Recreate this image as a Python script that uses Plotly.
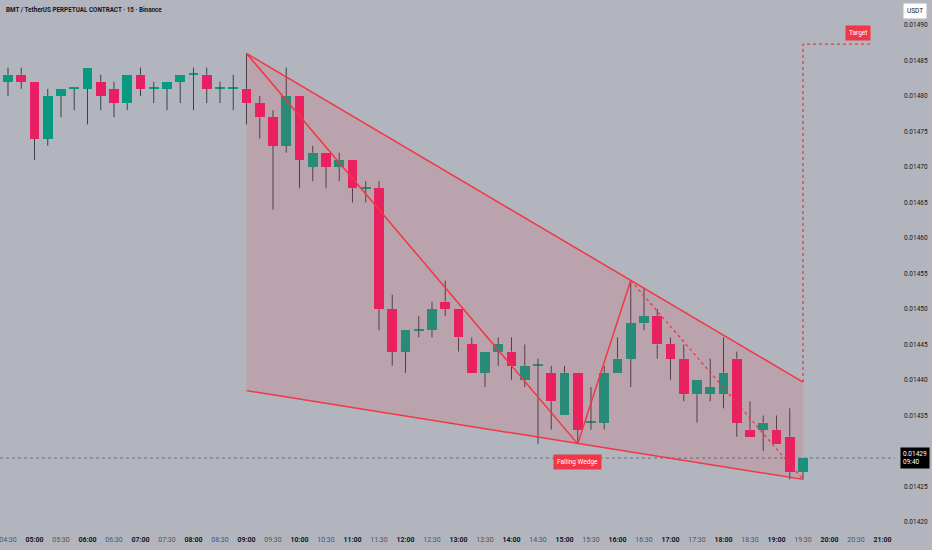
import plotly.graph_objects as go

DAY = "2025-05-01"

# ---- candle data (15-minute bars) ----
times = ["04:30", "04:45", "05:00", "05:15", "05:30", "05:45", "06:00", "06:15", "06:30", "06:45",
         "07:00", "07:15", "07:30", "07:45", "08:00", "08:15", "08:30", "08:45", "09:00", "09:15",
         "09:30", "09:45", "10:00", "10:15", "10:30", "10:45", "11:00", "11:15", "11:30", "11:45",
         "12:00", "12:15", "12:30", "12:45", "13:00", "13:15", "13:30", "13:45", "14:00", "14:15",
         "14:30", "14:45", "15:00", "15:15", "15:30", "15:45", "16:00", "16:15", "16:30", "16:45",
         "17:00", "17:15", "17:30", "17:45", "18:00", "18:15", "18:30", "18:45", "19:00", "19:15",
         "19:30"]
opens = [0.01482, 0.01483, 0.01482, 0.01474, 0.01480, 0.01481, 0.01481, 0.01482, 0.01481, 0.01479,
         0.01483, 0.01481, 0.01481, 0.01482, 0.01483, 0.01483, 0.01481, 0.01481, 0.01481, 0.01479,
         0.01477, 0.01473, 0.01480, 0.01470, 0.01472, 0.01470, 0.01471, 0.01467, 0.01467, 0.01450,
         0.01444, 0.01447, 0.01447, 0.01451, 0.01450, 0.01445, 0.01441, 0.01444, 0.01444, 0.01440,
         0.01442, 0.01441, 0.01435, 0.01441, 0.01434, 0.01434, 0.01441, 0.01443, 0.01448, 0.01449,
         0.01445, 0.01443, 0.01438, 0.01438, 0.01438, 0.01443, 0.01433, 0.01433, 0.01433, 0.01432,
         0.01427]
highs = [0.01484, 0.01484, 0.01482, 0.01481, 0.01481, 0.01481, 0.01484, 0.01483, 0.01482, 0.01483,
         0.01484, 0.01482, 0.01482, 0.01483, 0.01484, 0.01484, 0.01482, 0.01483, 0.01486, 0.01480,
         0.01478, 0.01484, 0.01480, 0.01473, 0.01472, 0.01472, 0.01471, 0.01468, 0.01468, 0.01452,
         0.01446, 0.01449, 0.01451, 0.01454, 0.01450, 0.01446, 0.01444, 0.01446, 0.01446, 0.01445,
         0.01443, 0.01442, 0.01442, 0.01441, 0.01439, 0.01442, 0.01446, 0.01454, 0.01453, 0.01450,
         0.01446, 0.01445, 0.01440, 0.01443, 0.01446, 0.01444, 0.01437, 0.01435, 0.01435, 0.01436,
         0.01429]
lows = [0.01480, 0.01481, 0.01471, 0.01473, 0.01477, 0.01478, 0.01476, 0.01478, 0.01477, 0.01478,
        0.01480, 0.01479, 0.01478, 0.01479, 0.01478, 0.01479, 0.01479, 0.01478, 0.01476, 0.01474,
        0.01464, 0.01472, 0.01467, 0.01468, 0.01467, 0.01468, 0.01465, 0.01465, 0.01447, 0.01442,
        0.01441, 0.01446, 0.01446, 0.01449, 0.01444, 0.01441, 0.01439, 0.01442, 0.01440, 0.01439,
        0.01431, 0.01433, 0.01435, 0.01431, 0.01433, 0.01433, 0.01441, 0.01439, 0.01447, 0.01443,
        0.01440, 0.01437, 0.01434, 0.01437, 0.01436, 0.01432, 0.01432, 0.01430, 0.01431, 0.01426,
        0.01426]
closes = [0.01483, 0.01482, 0.01474, 0.01480, 0.01481, 0.01481, 0.01484, 0.01480, 0.01479, 0.01483,
          0.01481, 0.01481, 0.01482, 0.01483, 0.01483, 0.01481, 0.01481, 0.01481, 0.01479, 0.01477,
          0.01473, 0.01480, 0.01471, 0.01472, 0.01470, 0.01471, 0.01467, 0.01467, 0.01450, 0.01444,
          0.01447, 0.01447, 0.01450, 0.01450, 0.01446, 0.01441, 0.01444, 0.01445, 0.01442, 0.01442,
          0.01442, 0.01437, 0.01441, 0.01433, 0.01434, 0.01441, 0.01443, 0.01448, 0.01449, 0.01445,
          0.01443, 0.01438, 0.01440, 0.01439, 0.01441, 0.01434, 0.01432, 0.01434, 0.01431, 0.01427,
          0.01429]

# ---- drawings ----
wedge_upper_t = ["09:00", "19:30"]
wedge_upper_p = [0.01486, 0.014397]
wedge_lower_t = ["09:00", "19:30"]
wedge_lower_p = [0.014385, 0.01426]
zigzag_t = ["09:00", "15:15", "16:15"]
zigzag_p = [0.01486, 0.01431, 0.01454]
projection_t = ["16:15", "19:30"]
projection_p = [0.01454, 0.01426]
target_t = ["19:30", "19:30", "20:49"]
target_p = [0.014397, 0.014873, 0.014873]
target_text = "Target"
pattern_text = "Falling Wedge"
pattern_point_t = "15:15"
pattern_point_p = 0.01431

x_ticks = ["04:30", "05:00", "05:30", "06:00", "06:30", "07:00", "07:30", "08:00", "08:30", "09:00",
           "09:30", "10:00", "10:30", "11:00", "11:30", "12:00", "12:30", "13:00", "13:30", "14:00",
           "14:30", "15:00", "15:30", "16:00", "16:30", "17:00", "17:30", "18:00", "18:30", "19:00",
           "19:30", "20:00", "20:30", "21:00"]
y_ticks = [0.01420, 0.01425, 0.01430, 0.01435, 0.01440, 0.01445, 0.01450, 0.01455, 0.01460,
           0.01465, 0.01470, 0.01475, 0.01480, 0.01485, 0.01490]

title_text = "BMT / TetherUS PERPETUAL CONTRACT · 15 · Binance"
currency_text = "USDT"
countdown_text = "09:40"

# ---- style ----
BG = "#B2B5BE"
UP = "#089981"
DOWN = "#E91E63"
WICK = "#3E414B"
LINE = "#F23645"
FONT = "Roboto"
TITLE_FONT = "Liberation Sans Narrow, Roboto"
DOJI_H = 1.4e-6


def ts(t):
    return f"{DAY} {t}"


X = [ts(t) for t in times]

fig = go.Figure()

# candle bodies
base = [min(o, c) for o, c in zip(opens, closes)]
height = [max(abs(c - o), DOJI_H) for o, c in zip(opens, closes)]
colors = [UP if c >= o else DOWN for o, c in zip(opens, closes)]
fig.add_trace(go.Bar(x=X, y=height, base=base, width=0.72 * 15 * 60 * 1000,
                     marker=dict(color=colors, line=dict(width=0)), hoverinfo="skip"))

# wicks (above and below the body)
wx, wy = [], []
for x, o, h, l, c in zip(X, opens, highs, lows, closes):
    top, bot = max(o, c), min(o, c)
    if h > top:
        wx += [x, x, None]
        wy += [top, h, None]
    if l < bot:
        wx += [x, x, None]
        wy += [bot, l, None]
fig.add_trace(go.Scatter(x=wx, y=wy, mode="lines", line=dict(color=WICK, width=1),
                         hoverinfo="skip"))

# wedge fill
poly_t = [wedge_upper_t[0], wedge_upper_t[1], wedge_lower_t[1], wedge_lower_t[0], wedge_upper_t[0]]
poly_p = [wedge_upper_p[0], wedge_upper_p[1], wedge_lower_p[1], wedge_lower_p[0], wedge_upper_p[0]]
fig.add_trace(go.Scatter(x=[ts(t) for t in poly_t], y=poly_p, mode="lines", fill="toself",
                         fillcolor="rgba(242,54,69,0.14)", line=dict(width=0), hoverinfo="skip"))
# wedge lines
for tt, pp in [(wedge_upper_t, wedge_upper_p), (wedge_lower_t, wedge_lower_p), (zigzag_t, zigzag_p)]:
    fig.add_trace(go.Scatter(x=[ts(t) for t in tt], y=pp, mode="lines",
                             line=dict(color=LINE, width=1.5), hoverinfo="skip"))
fig.add_trace(go.Scatter(x=[ts(t) for t in projection_t], y=projection_p, mode="lines",
                         line=dict(color=LINE, width=1.3, dash="dot"), hoverinfo="skip"))
fig.add_trace(go.Scatter(x=[ts(t) for t in target_t], y=target_p, mode="lines",
                         line=dict(color=LINE, width=1.3, dash="dot"), hoverinfo="skip"))

# last price line
last_close = closes[-1]
fig.add_shape(type="line", xref="paper", x0=0, x1=1, yref="y", y0=last_close, y1=last_close,
              line=dict(color="#6A6D78", width=1, dash="dot"), layer="below")

# labels
fig.add_annotation(x=ts(target_t[-1]), y=target_p[-1], text=target_text, showarrow=False,
                   xanchor="right", yanchor="bottom", yshift=3, xshift=-2,
                   bgcolor=LINE, font=dict(family=FONT, size=6.5, color="white"),
                   borderpad=3)
fig.add_annotation(x=ts(pattern_point_t), y=pattern_point_p, text=pattern_text, showarrow=False,
                   xanchor="center", yanchor="middle", yshift=-18,
                   bgcolor=LINE, font=dict(family=FONT, size=6.5, color="white"),
                   borderpad=3)
fig.add_annotation(xref="paper", x=1.0225, y=last_close, text=f"{last_close:.5f}<br>{countdown_text}",
                   showarrow=False, xanchor="center", yanchor="middle", bgcolor="#000000",
                   font=dict(family=FONT, size=6.5, color="white"), borderpad=2, align="left")
fig.add_annotation(xref="paper", yref="paper", x=0.004, y=1 - 10 / 528, text=f"<b>{title_text}</b>",
                   showarrow=False, xanchor="left", yanchor="middle",
                   font=dict(family=TITLE_FONT, size=6.3, color="#131722"))
fig.add_annotation(xref="paper", yref="paper", x=1.0225, y=1 - 11 / 528, text=currency_text,
                   showarrow=False, xanchor="center", yanchor="middle", bgcolor="white",
                   font=dict(family=FONT, size=6.5, color="#131722"), borderpad=3)

tick_text = [f"<b>{t}</b>" if t.endswith(":00") else f"<span style='color:#50535E'>{t}</span>"
             for t in x_ticks]

fig.update_layout(
    width=932, height=550,
    margin=dict(l=0, r=37, t=0, b=22, autoexpand=False),
    paper_bgcolor=BG, plot_bgcolor=BG,
    showlegend=False, hovermode=False, bargap=0,
    font=dict(family=FONT, size=7, color="#131722"),
    xaxis=dict(type="date", range=[f"{DAY} 04:20:57", f"{DAY} 21:14:10"],
               tickvals=[ts(t) for t in x_ticks], ticktext=tick_text,
               showgrid=False, zeroline=False, showline=False, ticks="",
               ticklabeloverflow="allow",
               tickfont=dict(size=7, color="#131722"), ticklabelstandoff=6),
    yaxis=dict(range=[0.0141915, 0.0149352], side="right", tickvals=y_ticks,
               tickformat=".5f", showgrid=False, zeroline=False, showline=False, ticks="",
               tickfont=dict(size=6.5, color="#131722"), ticklabelstandoff=8),
)

fig.write_html("out.html", config={"displayModeBar": False},
               post_script="document.body.style.margin='0';document.body.style.overflow='hidden';")
